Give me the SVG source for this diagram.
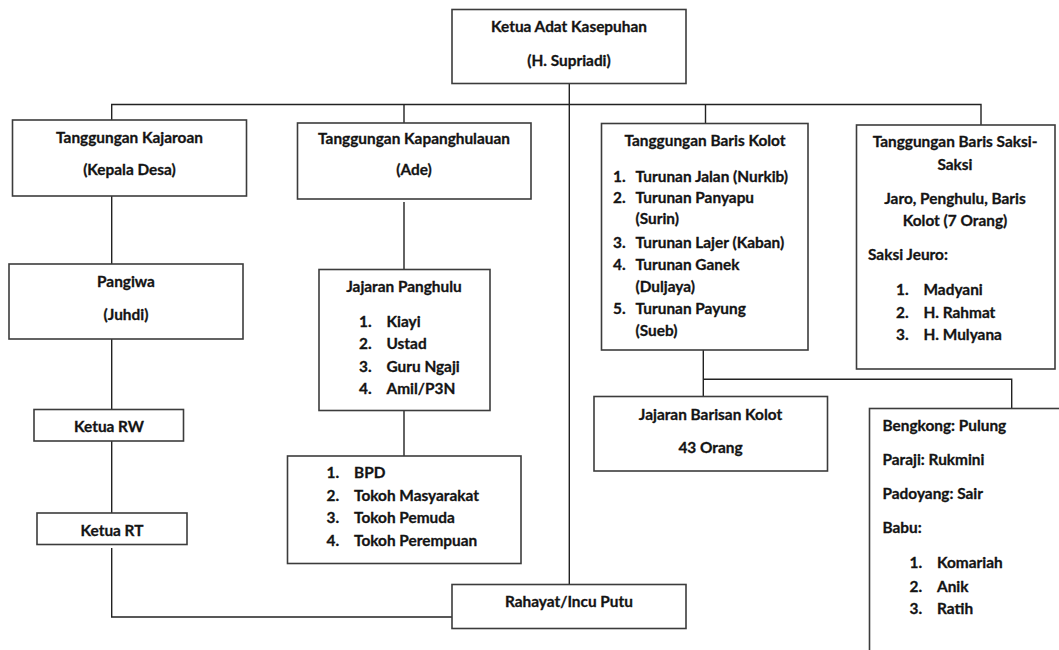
<svg xmlns="http://www.w3.org/2000/svg" width="1059" height="650" viewBox="0 0 1059 650">
<style>
.box{fill:#fff;stroke:#3c3c3c;stroke-width:1.6}
.c{fill:none;stroke:#222;stroke-width:1.4}
text{font-family:Lato,"Liberation Sans",sans-serif;font-weight:bold;font-size:15.4px;fill:#141414;stroke:#141414;stroke-width:0.3}
.m{text-anchor:middle}
</style>
<rect width="1059" height="650" fill="#fff"/>
<g id="connectors">
<path class="c" d="M569.3 83.5V584.5"/>
<path class="c" d="M111.7 120V104.5H981V125"/>
<path class="c" d="M404 104.5V123"/>
<path class="c" d="M705.5 104.5V123.5"/>
<path class="c" d="M111.7 196V264"/>
<path class="c" d="M404 202V269.5"/>
<path class="c" d="M111.7 339V409.5"/>
<path class="c" d="M111.7 441V513"/>
<path class="c" d="M111.7 548V617H452"/>
<path class="c" d="M404 410.7V456"/>
<path class="c" d="M703.3 350V396.5"/>
<path class="c" d="M703.3 379.3H1011.7V408.5"/>
</g>
<g id="ketua-adat">
<rect class="box" x="452" y="9.5" width="234" height="74"/>
<text class="m" x="569" y="32">Ketua Adat Kasepuhan</text>
<text class="m" x="569" y="65.5">(H. Supriadi)</text>
</g>
<g id="kajaroan">
<rect class="box" x="12.5" y="120" width="234" height="76"/>
<text class="m" x="129.5" y="143">Tanggungan Kajaroan</text>
<text class="m" x="129.5" y="174.5">(Kepala Desa)</text>
</g>
<g id="kapanghulauan">
<rect class="box" x="297.5" y="123" width="233.5" height="76"/>
<text class="m" x="414" y="144">Tanggungan Kapanghulauan</text>
<text class="m" x="414" y="175">(Ade)</text>
</g>
<g id="pangiwa">
<rect class="box" x="9" y="264" width="234" height="75"/>
<text class="m" x="126" y="287">Pangiwa</text>
<text class="m" x="126" y="320">(Juhdi)</text>
</g>
<g id="ketua-rw">
<rect class="box" x="34" y="409.5" width="149.5" height="31.5"/>
<text class="m" x="109" y="432">Ketua RW</text>
</g>
<g id="ketua-rt">
<rect class="box" x="37" y="513" width="150" height="31.5"/>
<text class="m" x="112" y="535.5">Ketua RT</text>
</g>
<g id="jajaran-panghulu">
<rect class="box" x="319" y="269.5" width="171" height="141"/>
<text class="m" x="404" y="291.5">Jajaran Panghulu</text>
<text x="359" y="326.5">1.</text><text x="386.5" y="326.5">Kiayi</text>
<text x="359" y="349">2.</text><text x="386.5" y="349">Ustad</text>
<text x="359" y="371.5">3.</text><text x="386.5" y="371.5">Guru Ngaji</text>
<text x="359" y="393.5">4.</text><text x="386.5" y="393.5">Amil/P3N</text>
</g>
<g id="tokoh">
<rect class="box" x="287.5" y="456" width="233.5" height="107.5"/>
<text x="326.5" y="478">1.</text><text x="354" y="478">BPD</text>
<text x="326.5" y="500.5">2.</text><text x="354" y="500.5">Tokoh Masyarakat</text>
<text x="326.5" y="522.5">3.</text><text x="354" y="522.5">Tokoh Pemuda</text>
<text x="326.5" y="546">4.</text><text x="354" y="546">Tokoh Perempuan</text>
</g>
<g id="rahayat">
<rect class="box" x="452" y="584.5" width="234" height="44"/>
<text class="m" x="569" y="606.5">Rahayat/Incu Putu</text>
</g>
<g id="baris-kolot">
<rect class="box" x="601.5" y="123.5" width="206.5" height="226.5"/>
<text class="m" x="705" y="145.5">Tanggungan Baris Kolot</text>
<text x="613" y="181.5">1.</text><text x="635.5" y="181.5">Turunan Jalan (Nurkib)</text>
<text x="613" y="203">2.</text><text x="635.5" y="203">Turunan Panyapu</text>
<text x="635.5" y="224">(Surin)</text>
<text x="613" y="248">3.</text><text x="635.5" y="248">Turunan Lajer (Kaban)</text>
<text x="613" y="269.5">4.</text><text x="635.5" y="269.5">Turunan Ganek</text>
<text x="635.5" y="291.5">(Duljaya)</text>
<text x="613" y="314">5.</text><text x="635.5" y="314">Turunan Payung</text>
<text x="635.5" y="335.5">(Sueb)</text>
</g>
<g id="saksi">
<rect class="box" x="856.5" y="125" width="198.5" height="244"/>
<text class="m" x="955" y="147">Tanggungan Baris Saksi-</text>
<text class="m" x="955" y="170">Saksi</text>
<text class="m" x="955" y="204">Jaro, Penghulu, Baris</text>
<text class="m" x="955" y="225.5">Kolot (7 Orang)</text>
<text x="868" y="259.5">Saksi Jeuro:</text>
<text x="896" y="295">1.</text><text x="923.5" y="295">Madyani</text>
<text x="896" y="317.5">2.</text><text x="923.5" y="317.5">H. Rahmat</text>
<text x="896" y="340">3.</text><text x="923.5" y="340">H. Mulyana</text>
</g>
<g id="jajaran-barisan-kolot">
<rect class="box" x="594" y="396.5" width="233.5" height="74.5"/>
<text class="m" x="710.5" y="419.5">Jajaran Barisan Kolot</text>
<text class="m" x="710.5" y="452.5">43 Orang</text>
</g>
<g id="bengkong">
<rect class="box" x="869.5" y="408.5" width="200" height="260"/>
<text x="882.5" y="430.5">Bengkong: Pulung</text>
<text x="882.5" y="465">Paraji: Rukmini</text>
<text x="882.5" y="499">Padoyang: Sair</text>
<text x="882.5" y="533">Babu:</text>
<text x="909.5" y="568">1.</text><text x="937" y="568">Komariah</text>
<text x="909.5" y="591.5">2.</text><text x="937" y="591.5">Anik</text>
<text x="909.5" y="613.5">3.</text><text x="937" y="613.5">Ratih</text>
</g>
</svg>
